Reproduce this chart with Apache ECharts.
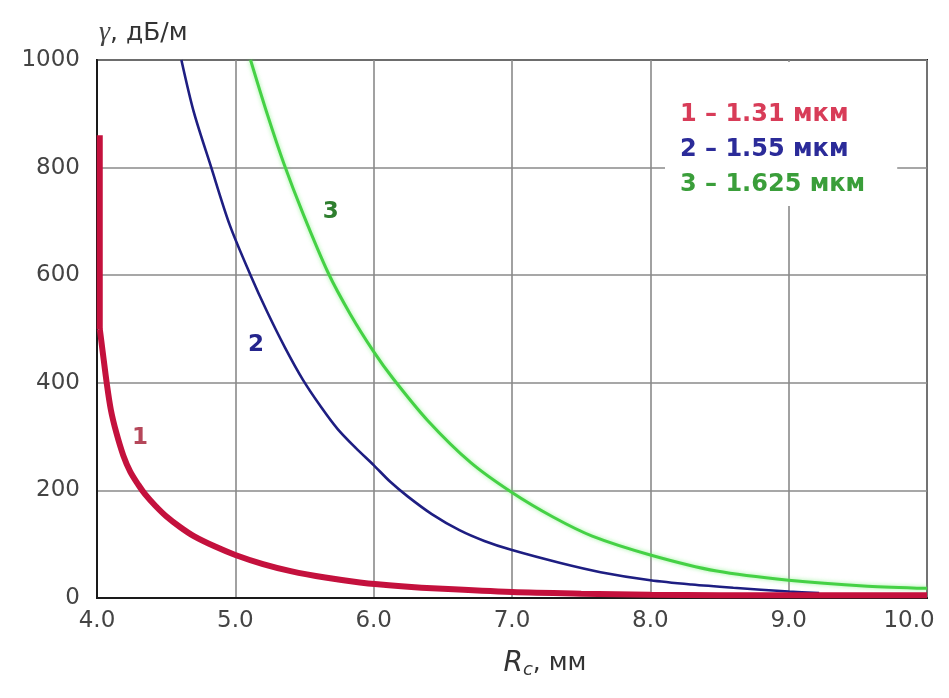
<!DOCTYPE html>
<html>
<head>
<meta charset="utf-8">
<script src="https://cdn.jsdelivr.net/npm/echarts@6/dist/echarts.min.js"></script>
<style>html,body{margin:0;padding:0;background:#fff}#c{width:949px;height:698px}</style>
</head>
<body>
<div id="c"></div>
<script>
// ---- data ----
const xTicks = [4, 5, 6, 7, 8, 9, 10];
const yTicks = [0, 200, 400, 600, 800, 1000];
const seriesNames = ['1 – 1.31 мкм', '2 – 1.55 мкм', '3 – 1.625 мкм'];
// curve 1 starts with a vertical stroke at the left edge
const curve1Vertical = [[4.02,860],[4.02,500]];
const curve1 = [[4.02,500],[4.04,460],[4.07,400],[4.10,350],[4.14,307],[4.19,265],[4.24,235],[4.30,210],[4.35,192],[4.42,172],[4.50,152],[4.60,132],[4.70,115],[4.85,96],[5.0,80],[5.2,63],[5.4,50],[5.65,38],[5.9,29],[6.2,22],[6.5,17],[7.0,11],[7.5,8],[8.0,6],[9.0,5],[10.0,5]];
const curve2 = [[4.61,1000],[4.70,903],[4.82,805],[4.96,693],[5.11,600],[5.23,532],[5.36,465],[5.49,405],[5.62,355],[5.74,314],[5.87,279],[6.0,247],[6.12,216],[6.25,188],[6.42,156],[6.62,126],[6.8,106],[7.0,89],[7.35,65],[7.64,48],[8.0,33],[8.3,25],[8.6,19],[9.0,12],[9.22,9]];
const curve3 = [[5.11,1000],[5.23,900],[5.35,808],[5.49,714],[5.67,605],[5.83,528],[6.0,458],[6.14,408],[6.39,330],[6.70,252],[7.0,196],[7.3,150],[7.58,115],[8.0,80],[8.48,50],[9.0,33],[9.57,22],[10.0,18]];
const curveLabels = [[4.31,297,'1'],[5.15,470,'2'],[5.69,717,'3']];

const lineColors = ['#c4113d', '#1e1e82', '#45d145'];
const textColors = ['#d83c58', '#2b2b99', '#3a9e3a'];
const labelColors = ['#b5475a', '#25258c', '#2f7f2f'];

const chart = echarts.init(document.getElementById('c'), null, {renderer: 'canvas'});
const font = 'DejaVu Sans';
chart.setOption({
  animation: false,
  backgroundColor: '#fff',
  grid: {left: 97, right: 22, top: 60, bottom: 100, show: true, borderColor: '#1a1a1a', borderWidth: 2, backgroundColor: 'transparent'},
  xAxis: {
    type: 'value', min: xTicks[0], max: xTicks[xTicks.length-1], interval: 1,
    name: '{i|R}{s|c}{n|, мм}', nameLocation: 'middle', nameGap: 50,
    nameTextStyle: {
      padding: [0, 0, 0, 66],
      rich: {
        i: {fontFamily: font, fontStyle: 'italic', fontSize: 28, color: '#333'},
        s: {fontFamily: font, fontStyle: 'italic', fontSize: 18, color: '#333', padding: [13, 0, 0, 0]},
        n: {fontFamily: font, fontSize: 25, color: '#333'}
      }
    },
    axisLine: {show: true, lineStyle: {color: '#1a1a1a', width: 2}},
    axisTick: {show: false},
    axisLabel: {
      margin: 12, fontFamily: font, fontSize: 23, color: '#444',
      formatter: v => v === 10 ? '{r|' + v.toFixed(1) + '}' : v.toFixed(1),
      rich: {r: {fontFamily: font, fontSize: 23, color: '#444', padding: [0, 36, 0, 0]}}
    },
    splitLine: {show: true, lineStyle: {color: '#8a8a8a', width: 1.6}}
  },
  yAxis: {
    type: 'value', min: yTicks[0], max: yTicks[yTicks.length-1], interval: 200,
    name: '{g|γ}{n|, дБ/м}', nameLocation: 'end', nameGap: 13,
    nameTextStyle: {
      align: 'left', padding: [0, 0, 0, 2],
      rich: {
        g: {fontFamily: 'Liberation Serif', fontStyle: 'italic', fontSize: 28, color: '#444'},
        n: {fontFamily: font, fontSize: 25, color: '#333'}
      }
    },
    axisLine: {show: true, lineStyle: {color: '#1a1a1a', width: 2}},
    axisTick: {show: false},
    axisLabel: {margin: 17, fontFamily: font, fontSize: 23, color: '#444', formatter: v => String(v)},
    splitLine: {show: true, lineStyle: {color: '#8a8a8a', width: 1.6}}
  },
  legend: {
    orient: 'vertical', left: 665, top: 62,
    padding: [40, 32, 8, 10], itemGap: 9,
    backgroundColor: '#fff',
    icon: 'none', itemWidth: 0, itemHeight: 0,
    selectedMode: false,
    textStyle: {fontFamily: font, fontSize: 24, fontWeight: 'bold', lineHeight: 26},
    data: seriesNames.map((n, i) => ({name: n, textStyle: {color: textColors[i]}}))
  },
  series: [
    {name: seriesNames[0], type: 'line', data: curve1Vertical, showSymbol: false, z: 4,
     lineStyle: {color: lineColors[0], width: 6}, itemStyle: {color: lineColors[0]}},
    {name: seriesNames[0], type: 'line', data: curve1, smooth: 0.3, showSymbol: false, z: 4,
     lineStyle: {color: lineColors[0], width: 6}, itemStyle: {color: lineColors[0]}},
    {name: seriesNames[1], type: 'line', data: curve2, smooth: 0.3, showSymbol: false, z: 3,
     lineStyle: {color: lineColors[1], width: 2.6}, itemStyle: {color: lineColors[1]}},
    {name: seriesNames[2], type: 'line', data: curve3, smooth: 0.3, showSymbol: false, z: 3,
     lineStyle: {color: lineColors[2], width: 3, shadowColor: 'rgba(90,235,90,0.6)', shadowBlur: 4}, itemStyle: {color: lineColors[2]}},
    {name: 'labels', type: 'scatter', symbolSize: 0, z: 5, itemStyle: {opacity: 1},
     data: curveLabels.map((d, i) => ({value: [d[0], d[1]], label: {
       show: true, position: 'inside', formatter: d[2], fontFamily: font, fontSize: 23, fontWeight: 'bold',
       color: labelColors[i], textBorderWidth: 0, opacity: 1}}))}
  ]
});
</script>
</body>
</html>
